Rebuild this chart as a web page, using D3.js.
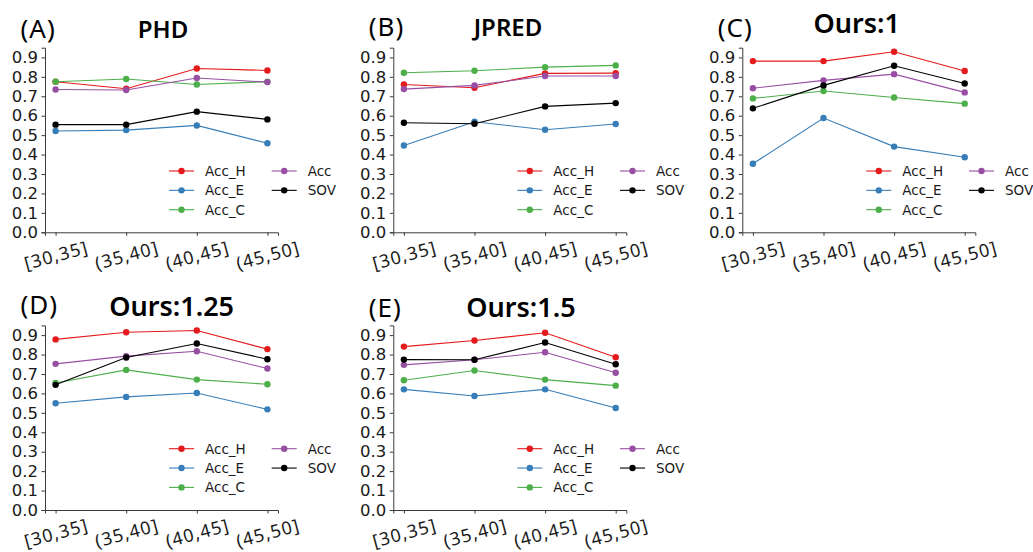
<!DOCTYPE html>
<html>
<head>
<meta charset="utf-8">
<script src="https://cdn.jsdelivr.net/npm/d3@7"></script>
<style>
  html, body { margin: 0; padding: 0; background: #fff; }
  svg { display: block; }
</style>
</head>
<body>
<svg id="chart" width="1033" height="552"></svg>
<script>
// ---- data ----
const categories = ["[30,35]", "(35,40]", "(40,45]", "(45,50]"];
const seriesNames = ["Acc_H", "Acc_E", "Acc_C", "Acc", "SOV"];
const yTickValues = [0.0, 0.1, 0.2, 0.3, 0.4, 0.5, 0.6, 0.7, 0.8, 0.9];
const panelLabels = ["(A)", "(B)", "(C)", "(D)", "(E)"];
const panelTitles = ["PHD", "JPRED", "Ours:1", "Ours:1.25", "Ours:1.5"];

// one row per series, in seriesNames order
const phdValues = [
  [0.775, 0.739, 0.843, 0.833],
  [0.521, 0.526, 0.550, 0.458],
  [0.775, 0.789, 0.761, 0.775],
  [0.735, 0.732, 0.794, 0.773],
  [0.554, 0.554, 0.621, 0.581]
];
const jpredValues = [
  [0.761, 0.744, 0.818, 0.819],
  [0.447, 0.569, 0.528, 0.557],
  [0.821, 0.831, 0.850, 0.859],
  [0.737, 0.756, 0.804, 0.804],
  [0.564, 0.559, 0.648, 0.665]
];
const ours1Values = [
  [0.881, 0.881, 0.929, 0.830],
  [0.353, 0.588, 0.441, 0.386],
  [0.689, 0.727, 0.694, 0.662],
  [0.741, 0.782, 0.814, 0.720],
  [0.638, 0.756, 0.857, 0.766]
];
const ours125Values = [
  [0.878, 0.915, 0.924, 0.828],
  [0.549, 0.582, 0.602, 0.518],
  [0.654, 0.721, 0.671, 0.647],
  [0.752, 0.792, 0.817, 0.728],
  [0.644, 0.785, 0.857, 0.776]
];
const ours15Values = [
  [0.841, 0.872, 0.912, 0.786],
  [0.621, 0.587, 0.621, 0.525],
  [0.668, 0.718, 0.671, 0.640],
  [0.747, 0.773, 0.812, 0.706],
  [0.774, 0.773, 0.862, 0.750]
];
const panelValues = [phdValues, jpredValues, ours1Values, ours125Values, ours15Values];

// ---- styles / layout ----
const seriesColors = ["#e41a1c", "#377eb8", "#4daf4a", "#984ea3", "#000000"];
const axisColor = "#3a3a3a";
const axisWidth = 233, axisHeight = 184.6;
const panelLayout = [
  { left: 45,    bottom: 232.3, titleX: 163,   titleY: 37.7, labelY: 37.5, titleSize: 24 },
  { left: 393.3, bottom: 232.3, titleX: 508,   titleY: 36,   labelY: 36,   titleSize: 24 },
  { left: 742.3, bottom: 232.3, titleX: 856.7, titleY: 32.7, labelY: 37.3, titleSize: 27 },
  { left: 45,    bottom: 510,   titleX: 171.7, titleY: 315.7, labelY: 314.3, titleSize: 27 },
  { left: 393.3, bottom: 510,   titleX: 521,   titleY: 316.7, labelY: 316.7, titleSize: 27 }
];

const svg = d3.select("#chart");

panelLayout.forEach((p, i) => drawPanel(p, i));

function drawPanel(p, idx) {
    const x = d3.scalePoint()
        .domain(categories)
        .range([p.left, p.left + axisWidth])
        .padding(0.15);
    const y = d3.scaleLinear()
        .domain([0, 0.95])
        .range([p.bottom, p.bottom - axisHeight]);

    const g = svg.append("g").attr("class", "panel");

    // y axis
    const yAxis = g.append("g")
        .attr("transform", `translate(${p.left},0)`)
        .call(d3.axisLeft(y).tickValues(yTickValues).tickFormat(d3.format(".1f"))
            .tickSizeOuter(0).tickSize(3.5).tickPadding(3.5));
    yAxis.select(".domain").attr("stroke", axisColor).attr("stroke-width", 1);
    yAxis.selectAll(".tick line").attr("stroke", axisColor);
    yAxis.selectAll(".tick text")
        .attr("fill", "#1a1a1a")
        .style("font-family", "'DejaVu Sans', sans-serif")
        .style("font-size", "16.5px");

    // x axis
    const xAxis = g.append("g")
        .attr("transform", `translate(0,${p.bottom})`)
        .call(d3.axisBottom(x).tickSizeOuter(0).tickSize(3.5));
    xAxis.select(".domain").attr("stroke", axisColor).attr("stroke-width", 1);
    xAxis.selectAll(".tick line").attr("stroke", axisColor);
    xAxis.selectAll(".tick text")
        .attr("y", null).attr("dy", null)
        .attr("transform", "translate(0,22.5) rotate(-15)")
        .attr("text-anchor", "middle")
        .attr("dominant-baseline", "central")
        .attr("fill", "#1a1a1a")
        .style("font-family", "'Noto Sans', sans-serif")
        .style("font-size", "18px")
        .style("letter-spacing", "1.1px");

    // lines + markers
    const line = d3.line()
        .x((d, i) => x(categories[i]))
        .y(d => y(d));

    panelValues[idx].forEach((vals, s) => {
        g.append("path")
            .datum(vals)
            .attr("fill", "none")
            .attr("stroke", seriesColors[s])
            .attr("stroke-width", 1.1)
            .attr("d", line);
        g.selectAll(null)
            .data(vals)
            .enter().append("circle")
            .attr("cx", (d, i) => x(categories[i]))
            .attr("cy", d => y(d))
            .attr("r", 3.2)
            .attr("fill", seriesColors[s]);
    });

    // legend: 2 columns (3 + 2 entries)
    const legend = g.append("g")
        .attr("transform", `translate(${p.left},${p.bottom})`);
    seriesNames.forEach((name, s) => {
        const col = s < 3 ? 0 : 1;
        const row = s < 3 ? s : s - 3;
        const lx = col === 0 ? 124 : 226.7;
        const ly = -61.3 + row * 19.35;
        legend.append("line")
            .attr("x1", lx).attr("x2", lx + 25)
            .attr("y1", ly).attr("y2", ly)
            .attr("stroke", seriesColors[s])
            .attr("stroke-width", 1.1);
        legend.append("circle")
            .attr("cx", lx + 12.5).attr("cy", ly)
            .attr("r", 3.2)
            .attr("fill", seriesColors[s]);
        legend.append("text")
            .attr("x", lx + 36).attr("y", ly)
            .attr("dominant-baseline", "central")
            .attr("fill", "#1a1a1a")
            .style("font-family", "'DejaVu Sans', sans-serif")
            .style("font-size", "13.5px")
            .text(name);
    });

    // panel letter and title
    g.append("text")
        .attr("x", p.left - 24.5)
        .attr("y", p.labelY)
        .attr("fill", "#000")
        .style("font-family", "'Noto Sans', sans-serif")
        .style("font-size", "26px")
        .style("letter-spacing", "1px")
        .text(panelLabels[idx]);
    g.append("text")
        .attr("x", p.titleX)
        .attr("y", p.titleY)
        .attr("text-anchor", "middle")
        .attr("fill", "#000")
        .style("font-family", "'Noto Sans', sans-serif")
        .style("font-weight", "600")
        .style("font-size", p.titleSize + "px")
        .text(panelTitles[idx]);
}
</script>
</body>
</html>
